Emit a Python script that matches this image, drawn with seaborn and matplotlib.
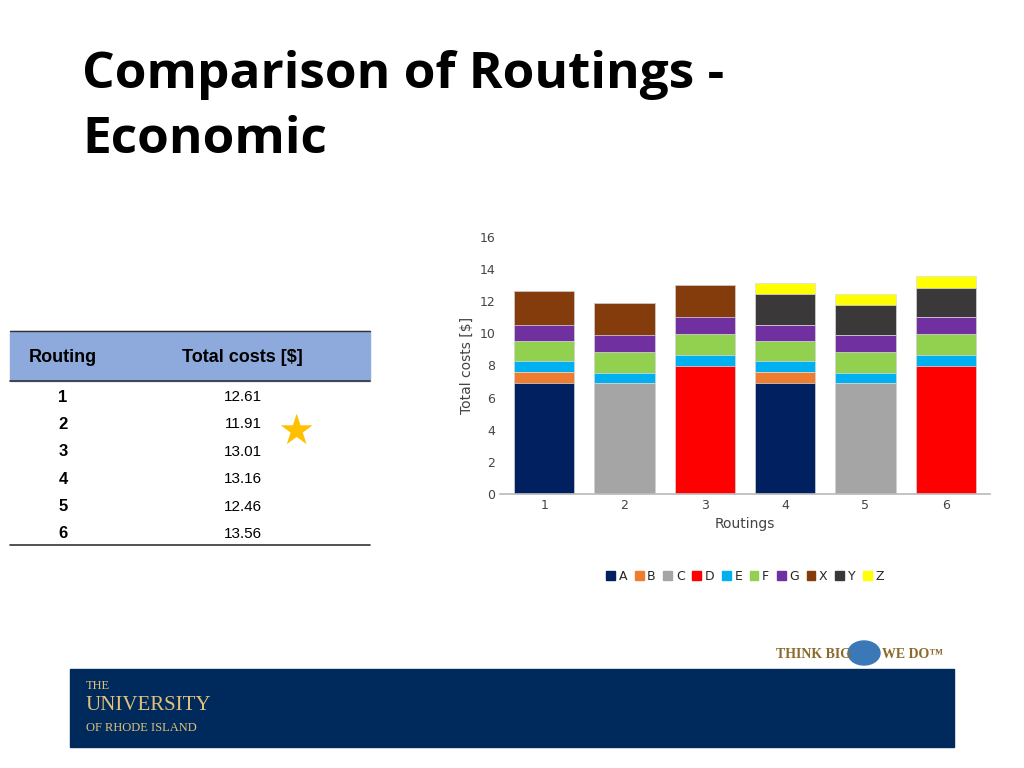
import matplotlib
matplotlib.use("Agg")
import matplotlib.pyplot as plt
from matplotlib.patches import Rectangle, Patch
import numpy as np
import pandas as pd
import seaborn as sns

ROUTINGS = ["1", "2", "3", "4", "5", "6"]
COMPONENTS = ["A", "B", "C", "D", "E", "F", "G", "X", "Y", "Z"]
COSTS = {
    "A": [6.9, 0, 0, 6.9, 0, 0],
    "B": [0.7, 0, 0, 0.7, 0, 0],
    "C": [0, 6.9, 0, 0, 6.9, 0],
    "D": [0, 0, 8.0, 0, 0, 8.0],
    "E": [0.65, 0.65, 0.65, 0.65, 0.65, 0.65],
    "F": [1.3, 1.3, 1.3, 1.3, 1.3, 1.3],
    "G": [1.0, 1.05, 1.05, 1.0, 1.05, 1.05],
    "X": [2.06, 2.01, 2.01, 0, 0, 0],
    "Y": [0, 0, 0, 1.9, 1.85, 1.85],
    "Z": [0, 0, 0, 0.71, 0.71, 0.71],
}
TOTALS = ["12.61", "11.91", "13.01", "13.16", "12.46", "13.56"]
COLOURS = ["#002060", "#ED7D31", "#A5A5A5", "#FF0000", "#00B0F0",
           "#92D050", "#7030A0", "#843C0C", "#3A3838", "#FFFF00"]

sns.set_theme(style="white")
fig = plt.figure(figsize=(10.24, 7.68), dpi=100)
W, H = 1024, 768


def fx(px):
    return px / W


def fy(py):
    return 1 - py / H


for text, y in [("Comparison of Routings -", 75), ("Economic", 140)]:
    fig.text(fx(82), fy(y), text, fontsize=37, fontweight="bold",
             family="Open Sans", color="black", va="center")

# table
fig.patches.append(Rectangle((fx(10), fy(381)), fx(360), 50 / H, color="#8EA9DB",
                             transform=fig.transFigure))
for y, lw in [(331, 1), (381, 1.2), (545, 1.2)]:
    fig.add_artist(plt.Line2D([fx(10), fx(370)], [fy(y), fy(y)], color="#333333", lw=lw))
fig.text(fx(63), fy(357), "Routing", fontsize=13, fontweight="bold", ha="center", va="center",
         family="Liberation Sans", color="black")
fig.text(fx(242), fy(357), "Total costs [$]", fontsize=13, fontweight="bold", ha="center",
         va="center", family="Liberation Sans", color="black")
for i, (r, t) in enumerate(zip(ROUTINGS, TOTALS)):
    yy = 397 + i * 27.4
    fig.text(fx(63), fy(yy), r, fontsize=12, fontweight="bold", ha="center", va="center",
             family="Liberation Sans", color="black")
    fig.text(fx(243), fy(yy), t, fontsize=11, ha="center", va="center",
             family="Liberation Sans", color="black")
fig.text(fx(296), fy(432), "\u2605", fontsize=30, color="#FFC000", ha="center", va="center",
         family="DejaVu Sans")

# stacked chart: draw cumulative heights from the top component down
ax = fig.add_axes([fx(500), fy(494), fx(490), (494 - 237) / H])
df = pd.DataFrame(COSTS, index=ROUTINGS)[COMPONENTS]
cum = df.cumsum(axis=1)
for comp, col in reversed(list(zip(COMPONENTS, COLOURS))):
    sns.barplot(x=ROUTINGS, y=cum[comp].values, color=col, ax=ax, width=0.75,
                saturation=1, edgecolor="#dddddd", linewidth=0.5)
ax.set_ylim(0, 16)
ax.set_yticks(range(0, 17, 2))
ax.set_xlim(-0.55, 5.55)
ax.tick_params(labelsize=9, colors="#444444", length=0)
ax.set_xlabel("Routings", fontsize=10, color="#444444")
ax.set_ylabel("Total costs [$]", fontsize=10, color="#444444")
sns.despine(ax=ax, left=True)
ax.spines["bottom"].set_color("#bbbbbb")
handles = [Patch(color=c, label=n) for n, c in zip(COMPONENTS, COLOURS)]
ax.legend(handles=handles, loc="upper center", bbox_to_anchor=(0.5, -0.25), ncol=10,
          frameon=False, fontsize=9, handlelength=0.7, handleheight=0.7,
          columnspacing=0.6, handletextpad=0.3)

# footer
fig.patches.append(Rectangle((fx(70), fy(747)), fx(884), 78 / H, color="#002A5C",
                             transform=fig.transFigure))
fig.text(fx(86), fy(686), "THE", fontsize=9, color="#E0C27A", family="Liberation Serif", va="center")
fig.text(fx(86), fy(706), "UNIVERSITY", fontsize=15, color="#E0C27A", family="Liberation Serif", va="center")
fig.text(fx(86), fy(728), "OF RHODE ISLAND", fontsize=9, color="#E0C27A", family="Liberation Serif", va="center")
fig.text(fx(776), fy(655), "THINK BIG", fontsize=10, fontweight="bold", color="#8B6A2B",
         family="Liberation Serif", va="center")
fig.text(fx(882), fy(655), "WE DO\u2122", fontsize=10, fontweight="bold", color="#8B6A2B",
         family="Liberation Serif", va="center")
fig.patches.append(plt.Circle((fx(864), fy(653)), 16 / W, color="#3A78B8", transform=fig.transFigure))

fig.savefig("out.png", dpi=100)
